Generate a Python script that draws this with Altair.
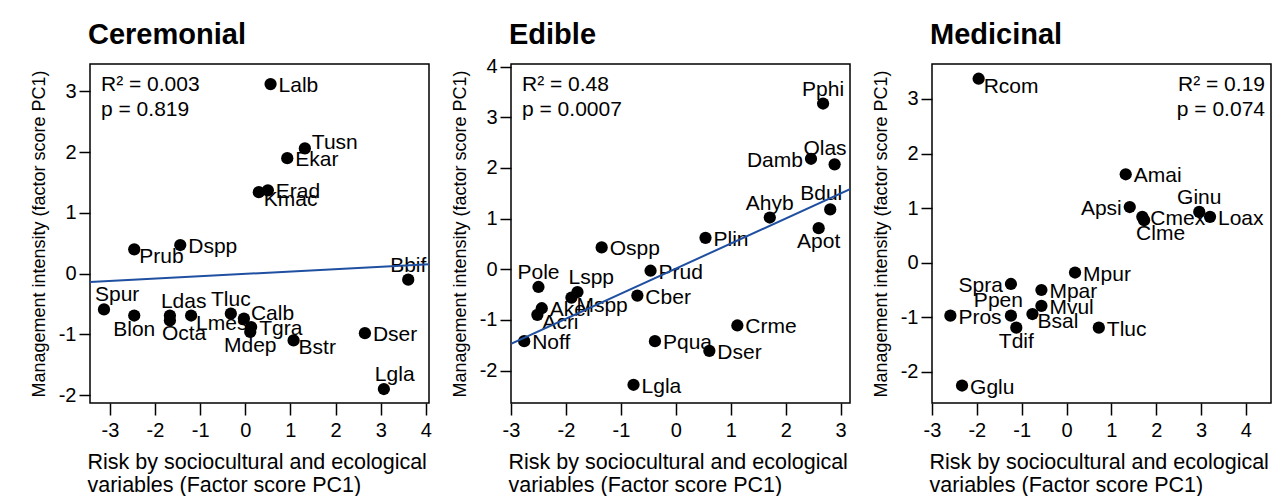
import altair as alt
import pandas as pd

FONT = "Liberation Sans"

# ---------------- data ----------------
cer_names = ["Lalb", "Tusn", "Ekar", "Erad", "Kmac", "Prub", "Dspp", "Bbif", "Spur", "Blon",
             "Ldas", "Octa", "Lmes", "Tluc", "Calb", "Tgra", "Mdep", "Bstr", "Dser", "Lgla"]
cer_x = [0.56, 1.32, 0.93, 0.50, 0.30, -2.46, -1.44, 3.61, -3.13, -2.46,
         -1.67, -1.67, -1.20, -0.32, -0.03, 0.13, 0.11, 1.07, 2.65, 3.07]
cer_y = [3.12, 2.06, 1.90, 1.37, 1.34, 0.40, 0.47, -0.10, -0.59, -0.69,
         -0.69, -0.77, -0.69, -0.66, -0.74, -0.88, -0.96, -1.10, -0.98, -1.90]
cer_pos = ["r", "ra", "r", "r", "rb", "rb", "r", "a", "ar", "b",
           "ar", "br", "rb", "a", "ra", "r", "b", "rb", "r", "ar"]
cer_stats = ["R² = 0.003", "p = 0.819"]

edi_names = ["Pphi", "Damb", "Olas", "Bdul", "Apot", "Ahyb", "Plin", "Ospp", "Prud", "Pole",
             "Lspp", "Mspp", "Cber", "Akel", "Acri", "Noff", "Pqua", "Dser", "Crme", "Lgla"]
edi_x = [2.68, 2.46, 2.89, 2.81, 2.60, 1.71, 0.54, -1.35, -0.46, -2.50,
         -1.79, -1.90, -0.70, -2.44, -2.52, -2.76, -0.38, 0.61, 1.12, -0.77]
edi_y = [3.27, 2.18, 2.07, 1.18, 0.81, 1.02, 0.62, 0.43, -0.03, -0.35,
         -0.45, -0.56, -0.52, -0.77, -0.90, -1.42, -1.42, -1.61, -1.11, -2.28]
edi_pos = ["a", "l", "al", "al", "b", "a", "r", "r", "r", "a",
           "ar", "rb", "r", "r", "rb", "r", "r", "r", "r", "r"]
edi_stats = ["R² = 0.48", "p = 0.0007"]

med_names = ["Rcom", "Amai", "Apsi", "Cmex", "Clme", "Ginu", "Loax", "Mpur", "Spra", "Mpar",
             "Mvul", "Ppen", "Bsal", "Pros", "Tdif", "Tluc", "Gglu"]
med_x = [-1.96, 1.32, 1.41, 1.69, 1.73, 2.96, 3.20, 0.19, -1.24, -0.56,
         -0.56, -1.24, -0.76, -2.59, -1.12, 0.72, -2.33]
med_y = [3.37, 1.62, 1.02, 0.84, 0.78, 0.93, 0.84, -0.18, -0.39, -0.50,
         -0.79, -0.97, -0.94, -0.97, -1.19, -1.19, -2.25]
med_pos = ["rb", "r", "l", "r", "br", "a", "r", "r", "l", "r",
           "r", "al", "rb", "r", "b", "r", "r"]
med_stats = ["R² = 0.19", "p = 0.074"]

x_title = ["Risk by sociocultural and ecological", "variables (Factor score PC1)"]
y_title = "Management  intensity (factor score PC1)"

# label placement styles: code -> (align, dx, dy)
POS = {
    "r": ("left", 8, 2),
    "ra": ("left", 7, -5),
    "rb": ("left", 5, 8),
    "a": ("center", 0, -14),
    "b": ("center", 0, 14),
    "ar": ("left", -9, -14),
    "br": ("left", -8, 14),
    "l": ("right", -8, 2),
    "al": ("right", 12, -15),
}

W = 339
H = 339


def panel(title, names, xs, ys, pos, xdom, ydom, xticks, yticks, stats, stats_right, fit,
          title_offset):
    df = pd.DataFrame({"name": names, "x": xs, "y": ys, "pos": pos})
    base = alt.Chart(df)
    xenc = alt.X("x:Q", scale=alt.Scale(domain=xdom, nice=False, zero=False),
                 axis=alt.Axis(values=xticks, title=x_title))
    yenc = alt.Y("y:Q", scale=alt.Scale(domain=ydom, nice=False, zero=False),
                 axis=alt.Axis(values=yticks, title=y_title))
    layers = []
    for code, (align, dx, dy) in POS.items():
        if code in pos:
            layers.append(
                base.transform_filter(alt.datum.pos == code)
                .mark_text(align=align, dx=dx, dy=dy, baseline="middle", font=FONT,
                           fontSize=21, color="black")
                .encode(x=xenc, y=yenc, text="name:N")
            )
    layers.append(base.mark_circle(size=150, color="black", opacity=1).encode(x=xenc, y=yenc))
    if fit:
        layers.append(
            base.transform_regression("x", "y", extent=xdom)
            .mark_line(color="#1f4fa0", strokeWidth=2, clip=True)
            .encode(x=xenc, y=yenc)
        )
    ann = alt.Chart(alt.Data(values=[{}])).mark_text(
        text=stats, lineHeight=25, align="right" if stats_right else "left",
        baseline="top", font=FONT, fontSize=21, color="black"
    ).encode(x=alt.value(W - 6 if stats_right else 11), y=alt.value(10))
    layers.append(ann)
    return alt.layer(*layers).properties(
        width=W, height=H,
        title=alt.TitleParams(title, anchor="start", frame="group", font=FONT, fontSize=29,
                              fontWeight="bold", color="black", dx=-2, offset=title_offset),
    )


p1 = panel("Ceremonial", cer_names, cer_x, cer_y, cer_pos, [-3.44, 4.07], [-2.13, 3.45],
           [-3, -2, -1, 0, 1, 2, 3, 4], [-2, -1, 0, 1, 2, 3], cer_stats, False, True, 14)
p2 = panel("Edible", edi_names, edi_x, edi_y, edi_pos, [-3.0, 3.17], [-2.64, 4.05],
           [-3, -2, -1, 0, 1, 2, 3], [-2, -1, 0, 1, 2, 3, 4], edi_stats, False, True, 7)
p3 = panel("Medicinal", med_names, med_x, med_y, med_pos, [-3.0, 4.56], [-2.57, 3.64],
           [-3, -2, -1, 0, 1, 2, 3, 4], [-2, -1, 0, 1, 2, 3], med_stats, True, False, 14)

chart = (
    alt.hconcat(p1, p2, p3, spacing=82, bounds="flush")
    .properties(padding={"left": 29, "top": 19, "right": 0, "bottom": 0})
    .configure_view(stroke="black", strokeWidth=1.5)
    .configure_axis(
        domain=False, grid=False, tickColor="black", tickWidth=1.5,
        labelFont=FONT, labelFontSize=20, labelColor="black", labelFlush=False,
        labelExpr="replace(datum.label, '\u2212', '-')",
        titleFont=FONT, titleColor="black", titleFontWeight="normal",
    )
    .configure_axisX(tickSize=12, labelPadding=5, titleFontSize=21.5, titleAnchor="start",
                     titleAlign="left", titlePadding=11, titleLineHeight=23, titleX=-3)
    .configure_axisY(tickSize=11, labelPadding=3, titleFontSize=18, titlePadding=10)
)

chart.save("out.html", embed_options={"renderer": "svg", "actions": False})
